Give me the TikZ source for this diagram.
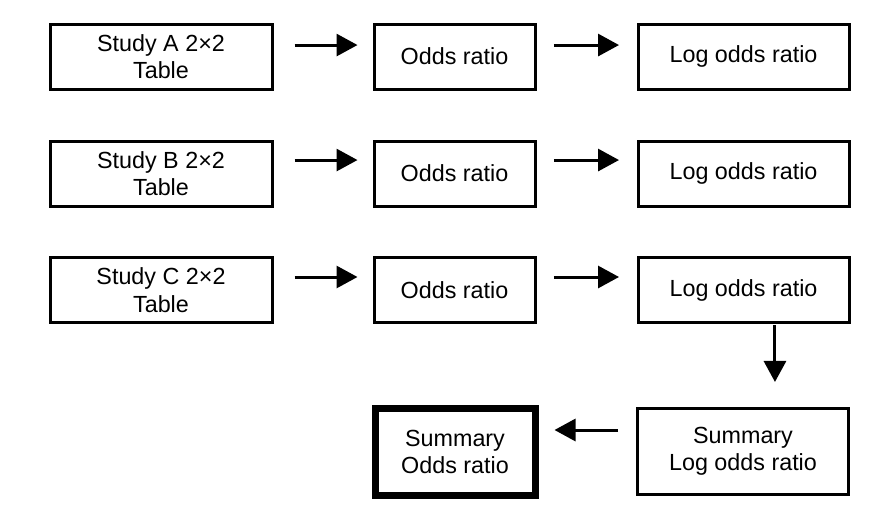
\documentclass[tikz,border=0pt]{standalone}
\usepackage{fontspec}
\setmainfont{Liberation Sans}
\usetikzlibrary{arrows.meta}
\begin{document}
\begin{tikzpicture}[x=0.75pt,y=-0.75pt,
  box/.style={draw, line width=2.25pt, align=center, inner sep=0pt,
    minimum height=48.75pt, font=\fontsize{17.5}{20.5}\selectfont},
  studybox/.style={box, minimum width=166.5pt},
  oddsbox/.style={box, minimum width=120.75pt},
  logbox/.style={box, minimum width=158.25pt},
  arr/.style={line width=2.25pt, -{Triangle[length=15.75pt,width=16.5pt]}}]
\useasboundingbox (0,0) rectangle (886,522);
% row A
\node[studybox] (sa) at (161,56.5) {Study A 2×2\\Table};
\node[oddsbox]  (oa) at (454.5,56.5) {Odds ratio};
\node[logbox]   (la) at (743.5,56.5) {Log odds ratio};
% row B
\node[studybox] (sb) at (161,173.5) {Study B 2×2\\Table};
\node[oddsbox]  (ob) at (454.5,173.5) {Odds ratio};
\node[logbox]   (lb) at (743.5,173.5) {Log odds ratio};
% row C
\node[studybox] (sc) at (161,290) {Study C 2×2\\Table};
\node[oddsbox]  (oc) at (454.5,290) {Odds ratio};
\node[logbox]   (lc) at (743.5,290) {Log odds ratio};
% summary
\node[box, minimum width=120pt, minimum height=65.25pt, line width=5.25pt] (so) at (455,452) {Summary\\Odds ratio};
\node[box, minimum width=158pt, minimum height=64.5pt] (sl) at (743,451) {Summary\\Log odds ratio};
% arrows
\draw[arr] ([shift={(15.75pt,8.6pt)}]sa.east) -- ([shift={(-11.25pt,8.6pt)}]oa.west);
\draw[arr] ([shift={(13.1pt,8.6pt)}]oa.east) -- ([shift={(-13.1pt,8.6pt)}]la.west);
\draw[arr] ([shift={(15.75pt,10.1pt)}]sb.east) -- ([shift={(-11.25pt,10.1pt)}]ob.west);
\draw[arr] ([shift={(13.1pt,10.1pt)}]ob.east) -- ([shift={(-13.1pt,10.1pt)}]lb.west);
\draw[arr] ([shift={(15.75pt,9.75pt)}]sc.east) -- ([shift={(-11.25pt,9.75pt)}]oc.west);
\draw[arr] ([shift={(13.1pt,9.75pt)}]oc.east) -- ([shift={(-13.1pt,9.75pt)}]lc.west);
\draw[arr] ([shift={(23.6pt,-1pt)}]lc.south) -- ([shift={(23.6pt,18.4pt)}]lc.south |- sl.north);
\draw[arr] ([shift={(-13.5pt,15.75pt)}]sl.west) -- ([shift={(12pt,15.75pt)}]so.east |- sl.west);
\end{tikzpicture}
\end{document}
